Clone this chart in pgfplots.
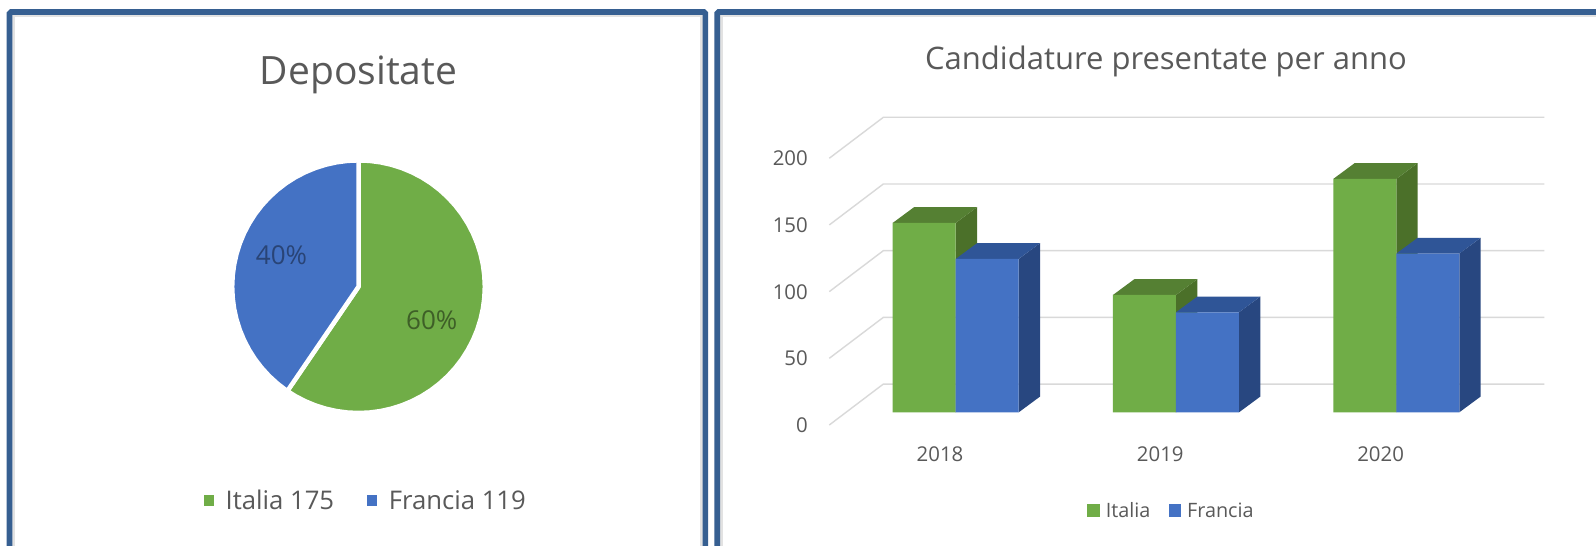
\documentclass[border=0pt]{standalone}
\usepackage{pgfplots}
\pgfplotsset{compat=1.18}
\usepackage{fontspec}
\setmainfont{Open Sans}

\definecolor{frameblue}{HTML}{365F91}
\definecolor{ombra}{HTML}{E2E2E2}
\definecolor{verde}{HTML}{70AD47}
\definecolor{verdetop}{HTML}{558033}
\definecolor{verdeside}{HTML}{4B7029}
\definecolor{blu}{HTML}{4472C4}
\definecolor{blutop}{HTML}{2F5597}
\definecolor{bluside}{HTML}{284780}
\definecolor{griglia}{HTML}{D9D9D9}
\definecolor{testo}{HTML}{595959}

% one pt in the file is one pixel of the picture
\pgfplotsset{
  sq legend/.style={legend image code/.code={
    \fill[##1,draw=none] (0pt,-6.2pt) rectangle (12.6pt,6.2pt);}},
  sq small/.style={legend image code/.code={
    \fill[##1,draw=none] (0pt,-5.4pt) rectangle (10.8pt,5.4pt);}},
  gridline/.style={griglia,line width=1.4pt,forget plot},
  face/.style={draw=none,fill=#1,forget plot},
}

% side and top of a bar: left edge, right edge, value, colours
\newcommand{\barfaces}[5]{%
  \pgfmathsetmacro{\xl}{#1}%
  \pgfmathsetmacro{\xr}{#2}%
  \pgfmathsetmacro{\xld}{#1+0.0967}%
  \pgfmathsetmacro{\xrd}{#2+0.0967}%
  \pgfmathsetmacro{\vd}{#3+11.8}%
  \addplot[face=#4] coordinates {(\xr,0) (\xrd,11.8) (\xrd,\vd) (\xr,#3)} --cycle;
  \addplot[face=#5] coordinates {(\xl,#3) (\xld,\vd) (\xrd,\vd) (\xr,#3)} --cycle;
}

\begin{document}
\begin{tikzpicture}
\useasboundingbox (0pt,0pt) rectangle (1596pt,546pt);
\fill[white] (0pt,0pt) rectangle (1596pt,546pt);
% faint inner shadow of the frames
\draw[ombra,line width=3pt] (13.5pt,-10pt) -- (13.5pt,530.5pt) -- (701.5pt,530.5pt) -- (701.5pt,-10pt);
\draw[ombra,line width=3pt] (721pt,-10pt) -- (721pt,530.5pt) -- (1606pt,530.5pt);
% panel frames, open at the bottom
\draw[frameblue,line width=5.6pt,rounded corners=1.5pt] (9.5pt,-10pt) -- (9.5pt,534pt) -- (705.3pt,534pt) -- (705.3pt,-10pt);
\draw[frameblue,line width=5.6pt,rounded corners=1.5pt] (717.2pt,-10pt) -- (717.2pt,534pt) -- (1606pt,534pt);

\begin{axis}[
  at={(358.5pt,259.3pt)}, anchor=center,
  scale only axis, width=260.2pt, height=260.2pt,
  xmin=-1.03, xmax=1.03, ymin=-1.03, ymax=1.03,
  hide axis, clip=false,
  legend style={at={(axis cs:0.049,-1.695)},anchor=center,draw=none,fill=none,
    font=\fontsize{25.7}{30}\selectfont\color{testo},legend columns=2,
    /tikz/every odd column/.append style={column sep=11.3pt},
    /tikz/column 2/.style={column sep=32.5pt},
    nodes={inner sep=0pt}},
]
% Italia 175, from 12 o'clock clockwise to 214.3 degrees
\addplot[draw=white,line width=4.5pt,fill=verde,line join=round,area legend,sq small] coordinates {
  (0,0) (0,1) (0.0872,0.9962) (0.1736,0.9848) (0.2588,0.9659) (0.3420,0.9397)
  (0.4226,0.9063) (0.5,0.8660) (0.5736,0.8192) (0.6428,0.7660) (0.7071,0.7071)
  (0.7660,0.6428) (0.8192,0.5736) (0.8660,0.5) (0.9063,0.4226) (0.9397,0.3420)
  (0.9659,0.2588) (0.9848,0.1736) (0.9962,0.0872) (1,0)
  (0.9962,-0.0872) (0.9848,-0.1736) (0.9659,-0.2588) (0.9397,-0.3420)
  (0.9063,-0.4226) (0.8660,-0.5) (0.8192,-0.5736) (0.7660,-0.6428) (0.7071,-0.7071)
  (0.6428,-0.7660) (0.5736,-0.8192) (0.5,-0.8660) (0.4226,-0.9063) (0.3420,-0.9397)
  (0.2588,-0.9659) (0.1736,-0.9848) (0.0872,-0.9962) (0,-1)
  (-0.0872,-0.9962) (-0.1736,-0.9848) (-0.2588,-0.9659) (-0.3420,-0.9397)
  (-0.4226,-0.9063) (-0.5,-0.8660) (-0.5635,-0.8261) (0,0)
} --cycle;
\addlegendentry{Italia 175}
% Francia 119
\addplot[draw=white,line width=4.5pt,fill=blu,line join=round,area legend,sq small] coordinates {
  (0,0) (-0.5635,-0.8261) (-0.5736,-0.8192) (-0.6428,-0.7660) (-0.7071,-0.7071)
  (-0.7660,-0.6428) (-0.8192,-0.5736) (-0.8660,-0.5) (-0.9063,-0.4226) (-0.9397,-0.3420)
  (-0.9659,-0.2588) (-0.9848,-0.1736) (-0.9962,-0.0872) (-1,0)
  (-0.9962,0.0872) (-0.9848,0.1736) (-0.9659,0.2588) (-0.9397,0.3420) (-0.9063,0.4226)
  (-0.8660,0.5) (-0.8192,0.5736) (-0.7660,0.6428) (-0.7071,0.7071) (-0.6428,0.7660)
  (-0.5736,0.8192) (-0.5,0.8660) (-0.4226,0.9063) (-0.3420,0.9397) (-0.2588,0.9659)
  (-0.1736,0.9848) (-0.0872,0.9962) (0,1) (0,0)
} --cycle;
\addlegendentry{Francia 119}
\node[font=\fontsize{26}{30}\selectfont,text=verde!55!black] at (axis cs:0.58,-0.265) {60\%};
\node[font=\fontsize{26}{30}\selectfont,text=blu!60!black] at (axis cs:-0.61,0.25) {40\%};
\node[font=\fontsize{39}{46}\selectfont,text=testo,inner sep=0pt] at (axis cs:0,1.678) {Depositate};
\end{axis}

\begin{axis}[
  at={(829.3pt,121pt)}, anchor=south west,
  scale only axis, width=715pt, height=312.5pt,
  xmin=-0.5738, xmax=2.672, ymin=-9.5, ymax=224.8,
  clip=false,
  axis line style={draw=none}, tick style={draw=none},
  xtick={0,1,2}, xticklabels={2018,2019,2020},
  ytick={0,50,100,150,200},
  tick label style={font=\fontsize{20.4}{24}\selectfont,text=testo},
  y tick label style={xshift=-18pt,yshift=-13pt},
  x tick label style={xshift=-15.7pt,yshift=-18.2pt},
  /pgf/number format/assume math mode=true,
  legend style={at={(axis cs:0.975,-73.6)},anchor=center,draw=none,fill=none,
    font=\fontsize{19.8}{24}\selectfont\color{testo},legend columns=2,
    /tikz/every odd column/.append style={column sep=6pt},
    /tikz/column 2/.style={column sep=18pt},
    nodes={inner sep=0pt}},
]
% floor and back wall gridlines
\addplot[gridline] coordinates {(-0.5738,-9.5) (-0.3285,21.2) (2.672,21.2)};
\addplot[gridline] coordinates {(-0.5738,40.5) (-0.3285,71.2) (2.672,71.2)};
\addplot[gridline] coordinates {(-0.5738,90.5) (-0.3285,121.2) (2.672,121.2)};
\addplot[gridline] coordinates {(-0.5738,140.5) (-0.3285,171.2) (2.672,171.2)};
\addplot[gridline] coordinates {(-0.5738,190.5) (-0.3285,221.2) (2.672,221.2)};
% depth of the bars
\barfaces{-0.286}{0}{142}{verdeside}{verdetop}
\barfaces{0.714}{1}{88}{verdeside}{verdetop}
\barfaces{1.714}{2}{175}{verdeside}{verdetop}
\barfaces{0}{0.286}{115}{bluside}{blutop}
\barfaces{1}{1.286}{75}{bluside}{blutop}
\barfaces{2}{2.286}{119}{bluside}{blutop}
% front faces
\addplot[ybar,bar width=63pt,bar shift=-31.5pt,draw=none,fill=verde,sq legend] coordinates {(0,142) (1,88) (2,175)};
\addlegendentry{Italia}
\addplot[ybar,bar width=63pt,bar shift=31.5pt,draw=none,fill=blu,sq legend] coordinates {(0,115) (1,75) (2,119)};
\addlegendentry{Francia}
\node[font=\fontsize{31}{36}\selectfont,text=testo,inner sep=0pt] at (axis cs:0.9546,262.7) {Candidature presentate per anno};
\end{axis}
\end{tikzpicture}
\end{document}
